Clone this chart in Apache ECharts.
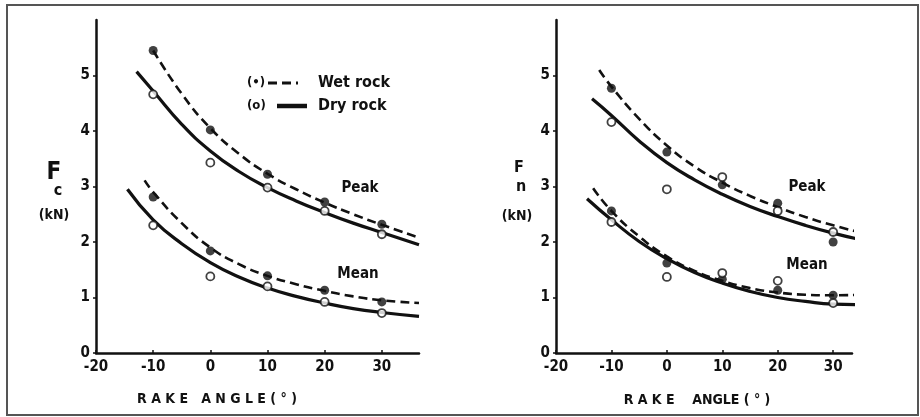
<!DOCTYPE html>
<html>
<head>
<meta charset="utf-8">
<script src="https://cdn.jsdelivr.net/npm/echarts@6/dist/echarts.min.js"></script>
<style>html,body{margin:0;padding:0;background:#fff;}#c{width:920px;height:417px;}</style>
</head>
<body>
<div id="c"></div>
<script>
// ---- tick labels ----
const xTicks = [-20, -10, 0, 10, 20, 30];
const yTicks = [0, 1, 2, 3, 4, 5];

// ---- measured points (rake angle) ----
const rakeAngles = [-10, 0, 10, 20, 30];
const fcWetPeak = [5.45, 4.02, 3.22, 2.72, 2.32];
const fcDryPeak = [4.66, 3.43, 2.98, 2.56, 2.14];
const fcWetMean = [2.81, 1.84, 1.39, 1.13, 0.92];
const fcDryMean = [2.30, 1.38, 1.20, 0.92, 0.72];
const fnWetPeak = [4.77, 3.62, 3.03, 2.70, 2.00];
const fnDryPeak = [4.16, 2.95, 3.17, 2.56, 2.18];
const fnWetMean = [2.56, 1.62, 1.33, 1.13, 1.04];
const fnDryMean = [2.36, 1.37, 1.44, 1.30, 0.90];

// ---- fitted curves ----
const fcWetPeakCurveX = [-10, -5, 0, 5, 10, 15, 20, 25, 30, 36.5];
const fcWetPeakCurveY = [5.45, 4.67, 4.05, 3.59, 3.23, 2.95, 2.71, 2.50, 2.31, 2.08];
const fcDryPeakCurveX = [-12.9, -10, -5, 0, 5, 10, 15, 20, 25, 30, 36.5];
const fcDryPeakCurveY = [5.07, 4.72, 4.12, 3.64, 3.27, 2.98, 2.74, 2.53, 2.34, 2.17, 1.95];
const fcWetMeanCurveX = [-11.5, -10, -5, 0, 5, 10, 15, 20, 25, 30, 36.5];
const fcWetMeanCurveY = [3.11, 2.90, 2.34, 1.90, 1.60, 1.39, 1.24, 1.12, 1.02, 0.95, 0.90];
const fcDryMeanCurveX = [-14.5, -10, -5, 0, 5, 10, 15, 20, 25, 30, 36.5];
const fcDryMeanCurveY = [2.95, 2.40, 1.97, 1.63, 1.37, 1.17, 1.02, 0.90, 0.80, 0.73, 0.66];

const fnWetPeakCurveX = [-12.2, -10, -5, 0, 5, 10, 15, 20, 25, 30, 35];
const fnWetPeakCurveY = [5.10, 4.80, 4.22, 3.74, 3.36, 3.07, 2.83, 2.63, 2.45, 2.30, 2.17];
const fnDryPeakCurveX = [-13.5, -10, -5, 0, 5, 10, 15, 20, 25, 30, 35];
const fnDryPeakCurveY = [4.58, 4.28, 3.82, 3.43, 3.12, 2.86, 2.64, 2.46, 2.30, 2.16, 2.04];
const fnWetMeanCurveX = [-13.3, -10, -5, 0, 5, 10, 15, 20, 25, 30, 35];
const fnWetMeanCurveY = [2.97, 2.56, 2.10, 1.74, 1.48, 1.30, 1.17, 1.09, 1.05, 1.04, 1.05];
const fnDryMeanCurveX = [-14.4, -10, -5, 0, 5, 10, 15, 20, 25, 30, 35];
const fnDryMeanCurveY = [2.78, 2.40, 2.01, 1.70, 1.45, 1.26, 1.11, 1.00, 0.93, 0.88, 0.87];

const FONT = "'DejaVu Sans Condensed', 'DejaVu Sans', sans-serif";
const INK = '#111';

function pairs(xs, ys) { return xs.map((x, i) => [x, ys[i]]); }

function curve(xs, ys, idx, dashed) {
  return {
    type: 'line', xAxisIndex: idx, yAxisIndex: idx,
    data: pairs(xs, ys), smooth: true, showSymbol: false, clip: false,
    silent: true, z: 2,
    lineStyle: dashed ? { color: INK, width: 2.6, type: [9, 5] } : { color: INK, width: 3.2 }
  };
}
function pts(ys, idx, filled) {
  return {
    type: 'scatter', xAxisIndex: idx, yAxisIndex: idx,
    data: pairs(rakeAngles, ys), symbol: 'circle', symbolSize: filled ? 9 : 8,
    silent: true, z: 4,
    itemStyle: filled ? { color: INK } : { color: '#fff', borderColor: INK, borderWidth: 1.8 }
  };
}

function xAxis(idx, max) {
  return {
    type: 'value', gridIndex: idx, min: -20, max: max, interval: 10,
    axisLine: { show: true, onZero: false, lineStyle: { color: INK, width: 2.5 } },
    axisTick: { show: true, inside: true, length: 3, customValues: xTicks, lineStyle: { color: INK, width: 1.5 } },
    axisLabel: { customValues: xTicks, color: INK, fontFamily: FONT, fontWeight: 'bold', fontSize: 15, margin: 7 },
    splitLine: { show: false }
  };
}
function yAxis(idx) {
  return {
    type: 'value', gridIndex: idx, min: 0, max: 6, interval: 1,
    axisLine: { show: true, onZero: false, lineStyle: { color: INK, width: 2.5 } },
    axisTick: { show: true, length: 3, customValues: yTicks, lineStyle: { color: INK, width: 1.5 } },
    axisLabel: { customValues: yTicks, color: INK, fontFamily: FONT, fontWeight: 'bold', fontSize: 15, margin: 6 },
    splitLine: { show: false }
  };
}

function txt(x, y, s, size, align) {
  return { type: 'text', x: x, y: y, silent: true, style: { text: s, fill: INK, font: 'bold ' + size + 'px ' + FONT, textAlign: align || 'left', textVerticalAlign: 'middle' } };
}

const chart = echarts.init(document.getElementById('c'), null, { renderer: 'canvas' });
chart.setOption({
  backgroundColor: '#fff',
  animation: false,
  grid: [
    { left: 96, top: 20, width: 323, height: 333 },
    { left: 556, top: 20, width: 296, height: 333 }
  ],
  xAxis: [xAxis(0, 36.5), xAxis(1, 33.4)],
  yAxis: [yAxis(0), yAxis(1)],
  series: [
    curve(fcWetPeakCurveX, fcWetPeakCurveY, 0, true),
    curve(fcDryPeakCurveX, fcDryPeakCurveY, 0, false),
    curve(fcWetMeanCurveX, fcWetMeanCurveY, 0, true),
    curve(fcDryMeanCurveX, fcDryMeanCurveY, 0, false),
    pts(fcWetPeak, 0, true), pts(fcDryPeak, 0, false),
    pts(fcWetMean, 0, true), pts(fcDryMean, 0, false),
    curve(fnWetPeakCurveX, fnWetPeakCurveY, 1, true),
    curve(fnDryPeakCurveX, fnDryPeakCurveY, 1, false),
    curve(fnWetMeanCurveX, fnWetMeanCurveY, 1, true),
    curve(fnDryMeanCurveX, fnDryMeanCurveY, 1, false),
    pts(fnWetPeak, 1, true), pts(fnDryPeak, 1, false),
    pts(fnWetMean, 1, true), pts(fnDryMean, 1, false)
  ],
  graphic: [
    { type: 'rect', shape: { x: 7, y: 5, width: 911, height: 410 }, style: { fill: 'none', stroke: '#555', lineWidth: 2 }, silent: true },
    // left axis title
    txt(54, 173, 'F', 24, 'center'),
    txt(58, 191, 'c', 16, 'center'),
    txt(54, 215, '(kN)', 14, 'center'),
    // right axis title
    txt(519, 168, 'F', 16, 'center'),
    txt(521, 187, 'n', 16, 'center'),
    txt(517, 216, '(kN)', 14, 'center'),
    // x axis titles
    txt(217, 399, 'R A K E   A N G L E ( ° )', 14, 'center'),
    txt(697, 400, 'R A K E    ANGLE ( ° )', 14, 'center'),
    // curve labels
    txt(360, 188, 'Peak', 15, 'center'),
    txt(358, 274, 'Mean', 15, 'center'),
    txt(807, 187, 'Peak', 15, 'center'),
    txt(807, 265, 'Mean', 15, 'center'),
    // legend
    txt(247, 83, '(•)', 13, 'left'),
    { type: 'line', shape: { x1: 268, y1: 83, x2: 298, y2: 83 }, style: { stroke: INK, lineWidth: 3, lineDash: [9, 5] }, silent: true },
    txt(318, 83, 'Wet rock', 16, 'left'),
    txt(247, 106, '(o)', 13, 'left'),
    { type: 'line', shape: { x1: 277, y1: 106, x2: 307, y2: 106 }, style: { stroke: INK, lineWidth: 4.5 }, silent: true },
    txt(318, 106, 'Dry rock', 16, 'left')
  ]
});
</script>
</body>
</html>
